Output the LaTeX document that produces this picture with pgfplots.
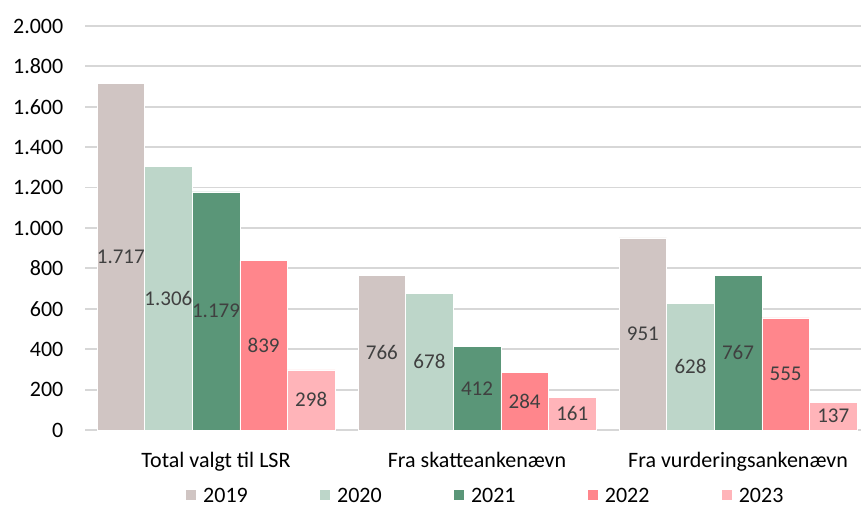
\documentclass[border=0pt]{standalone}
\usepackage{fontspec}
\setmainfont{Carlito}
\usepackage{pgfplots}
\pgfplotsset{compat=1.18}
\definecolor{c2019}{RGB}{208,197,195}
\definecolor{c2020}{RGB}{189,214,201}
\definecolor{c2021}{RGB}{90,150,120}
\definecolor{c2022}{RGB}{255,134,140}
\definecolor{c2023}{RGB}{255,180,185}
\definecolor{gridgrey}{RGB}{215,215,215}
\definecolor{labelgrey}{RGB}{64,64,64}
\newcommand{\bigf}{\fontsize{22}{26}\selectfont}
\newcommand{\lblf}{\fontsize{21}{25}\selectfont}
\begin{document}
\begin{tikzpicture}
\useasboundingbox (-85.5pt,-78pt) rectangle (775.5pt,430pt);
\begin{axis}[
  at={(0pt,0pt)}, anchor=south west,
  scale only axis, width=775.5pt, height=404pt,
  ybar=0pt, bar width=47.6pt,
  xmin=-0.5, xmax=2.471, ymin=0, ymax=2000,
  xtick={0,1,2},
  xticklabels={Total valgt til LSR, Fra skatteankenævn, Fra vurderingsankenævn},
  ytick={0,200,...,2000},
  ymajorgrids, grid style={color=gridgrey, line width=1.8pt},
  axis line style={draw=none}, tick style={draw=none},
  /pgf/number format/.cd, 1000 sep={.}, assume math mode=true, /pgfplots/.cd,
  yticklabel style={font=\bigf, anchor=east, inner sep=0pt, xshift=-22pt, text=black},
  xticklabel style={font=\bigf, anchor=base, inner sep=0pt, yshift=-33pt, text=black},
  nodes near coords,
  visualization depends on=y \as \rawy,
  every node near coord/.append style={font=\lblf, text=labelgrey, anchor=center,
     shift={(axis direction cs:0,-\rawy/2)}},
  legend columns=5,
  legend style={draw=none, font=\bigf, at={(0.516,-0.163)}, anchor=center,
    inner sep=0pt, /tikz/every even column/.append style={column sep=70pt}},
  legend image code/.code={\fill[#1,draw=none] (0pt,-4.5pt) rectangle (10.5pt,6pt); \path (15pt,0pt);},
  every axis plot/.append style={draw=white, line width=0.6pt},
]
\addplot[fill=c2019] coordinates {(0,1717) (1,766) (2,951)};
\addplot[fill=c2020] coordinates {(0,1306) (1,678) (2,628)};
\addplot[fill=c2021] coordinates {(0,1179) (1,412) (2,767)};
\addplot[fill=c2022] coordinates {(0,839) (1,284) (2,555)};
\addplot[fill=c2023] coordinates {(0,298) (1,161) (2,137)};
\legend{2019,2020,2021,2022,2023}
\end{axis}
\end{tikzpicture}
\end{document}
